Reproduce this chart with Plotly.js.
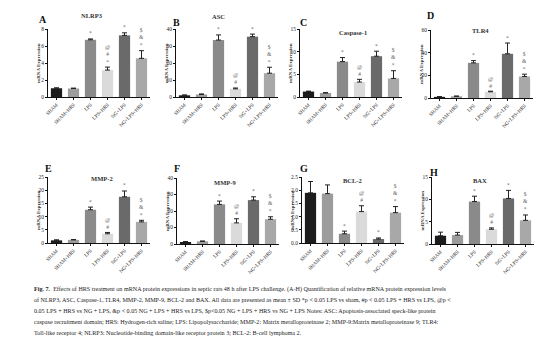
<!DOCTYPE html>
<html><head><meta charset="utf-8">
<script src="https://cdn.plot.ly/plotly-3.0.1.min.js"></script>
<style>html,body{margin:0;padding:0;background:#fff;}#chart{width:554px;height:342px;}</style>
</head><body><div id="chart"></div>
<script>
const categories = ['SHAM','SHAM+HRS','LPS','LPS+HRS','NG+LPS','NG+LPS+HRS'];
const barColors = ['#1c1c1c','#9c9c9c','#8a8a8a','#dadada','#6a6a6a','#a8a8a8'];

const nlrp3Mean = [1.03, 1.0, 6.73, 3.17, 7.25, 4.55];
const nlrp3Err  = [0.05, 0.05, 0.1, 0.35, 0.3, 0.9];
const ascMean   = [1.0, 1.5, 33.5, 4.8, 35.5, 14];
const ascErr    = [0.2, 0.3, 3, 0.5, 1.5, 3.5];
const casp1Mean = [1.2, 0.9, 7.8, 3.3, 9.0, 4.1];
const casp1Err  = [0.1, 0.05, 0.9, 0.6, 1.1, 1.7];
const tlr4Mean  = [1.0, 1.5, 31, 5.5, 39, 19];
const tlr4Err   = [0.2, 0.2, 2, 0.5, 9.5, 2];
const mmp2Mean  = [1.0, 1.2, 12.6, 3.5, 17.5, 8.0];
const mmp2Err   = [0.2, 0.1, 1, 0.5, 2.2, 0.6];
const mmp9Mean  = [1.2, 1.6, 24, 12.8, 26.6, 15];
const mmp9Err   = [0.3, 0.2, 2, 2.5, 2, 1.5];
const bcl2Mean  = [1.9, 1.87, 0.35, 1.19, 0.15, 1.15];
const bcl2Err   = [0.43, 0.33, 0.1, 0.22, 0.04, 0.23];
const baxMean   = [1.85, 2.0, 9.5, 3.3, 10.2, 5.3];
const baxErr    = [0.8, 0.6, 1.2, 0.3, 1.8, 1.2];

const marksA = ['', '', '*', '@<br>#<br>*', '*', '$<br>&amp;<br>*'];
const marksStd = ['', '', '*', '@<br>#', '*', '$<br>&amp;<br>*'];
const marksG = ['', '', '*', '@<br>#', '*', '$<br>&amp;<br>*'];

const panelNames = ['NLRP3','ASC','Caspase-1','TLR4','MMP-2','MMP-9','BCL-2','BAX'];
const panelLetters = ['A','B','C','D','E','F','G','H'];
const yTicks = [[0,2,4,6,8],[0,10,20,30,40],[0,5,10,15],[0,20,40,60],[0,5,10,15,20,25],[0,10,20,30,40],[0,0.5,1.0,1.5,2.0,2.5],[0,5,10,15]];
const yTickText = [null,null,null,null,null,null,['0.0','0.5','1.0','1.5','2.0','2.5'],null];

const means = [nlrp3Mean, ascMean, casp1Mean, tlr4Mean, mmp2Mean, mmp9Mean, bcl2Mean, baxMean];
const errs  = [nlrp3Err, ascErr, casp1Err, tlr4Err, mmp2Err, mmp9Err, bcl2Err, baxErr];
const marks = [marksA, marksStd, marksStd, marksStd, marksStd, marksStd, marksG, marksStd];

const W = 554, H = 342;
const boxes = [
  {x0:48,x1:150,y0:29,y1:97, title:[92,15], letter:[43,19]},
  {x0:176,x1:278,y0:29,y1:97, title:[218,17], letter:[176,22]},
  {x0:300,x1:402,y0:29,y1:97, title:[353,33], letter:[303,22]},
  {x0:431,x1:533,y0:30,y1:98, title:[480,30], letter:[430,15]},
  {x0:48,x1:150,y0:177,y1:243, title:[102,178], letter:[48,168]},
  {x0:177,x1:279,y0:178,y1:244, title:[225,182], letter:[177,168]},
  {x0:302,x1:404,y0:177,y1:243, title:[352,180], letter:[304,168]},
  {x0:432,x1:534,y0:177,y1:244, title:[480,180], letter:[434,172]}
];
const px = v => v / W;
const py = v => 1 - v / H;

const serif = 'Liberation Serif, Times New Roman, serif';
const data = [];
const layout = {
  width: W, height: H, margin:{l:0,r:0,t:0,b:0},
  paper_bgcolor:'#fff', plot_bgcolor:'#fff', showlegend:false,
  font:{family:serif, color:'#222'},
  annotations: []
};

boxes.forEach((b, i) => {
  const n = i === 0 ? '' : String(i + 1);
  const xa = 'x' + n, ya = 'y' + n;
  data.push({
    type:'bar', x: categories, y: means[i], xaxis: xa, yaxis: ya,
    width: 0.66,
    marker:{color: barColors, line:{width:0}},
    error_y:{type:'data', symmetric:false, array: errs[i], arrayminus: errs[i].map(() => 0),
             color:'#222', thickness:1, width:2.5},
    hoverinfo:'none'
  });
  const top = yTicks[i][yTicks[i].length - 1];
  layout['xaxis' + n] = {
    domain:[px(b.x0), px(b.x1)], anchor: ya, range:[-0.5, 5.5],
    showline:true, linecolor:'#111', linewidth:1, ticks:'outside', ticklen:2, tickwidth:1, tickcolor:'#111',
    tickangle:-45, tickfont:{size:5, family:serif, color:'#222'}, showgrid:false, zeroline:false, fixedrange:true
  };
  layout['yaxis' + n] = {
    domain:[py(b.y1), py(b.y0)], anchor: xa, range:[0, top],
    tickvals: yTicks[i], ticktext: yTickText[i] || yTicks[i].map(String),
    showline:true, linecolor:'#111', linewidth:1, ticks:'outside', ticklen:2, tickwidth:1, tickcolor:'#111',
    tickfont:{size:5.5, family:serif, color:'#222'}, showgrid:false, zeroline:false, fixedrange:true
  };
  layout.annotations.push({xref:'paper', yref:'paper', x:px(b.title[0]), y:py(b.title[1]), text:'<b>' + panelNames[i] + '</b>',
    showarrow:false, xanchor:'center', yanchor:'middle', font:{size:6.5, family:serif, color:'#333'}});
  layout.annotations.push({xref:'paper', yref:'paper', x:px(b.letter[0]), y:py(b.letter[1]), text:'<b>' + panelLetters[i] + '</b>',
    showarrow:false, xanchor:'center', yanchor:'middle', font:{size:10, family:serif, color:'#111'}});
  layout.annotations.push({xref:'paper', yref:'paper', x:px(b.x0 - 10), y:py((b.y0 + b.y1) / 2), text:'<b>mRNA Expression</b>',
    textangle:-90, showarrow:false, xanchor:'center', yanchor:'middle', font:{size:5, family:serif, color:'#333'}});
  categories.forEach((c, k) => {
    if (!marks[i][k]) return;
    layout.annotations.push({xref: xa, yref: ya, x: c, y: means[i][k] + errs[i][k], text: marks[i][k],
      showarrow:false, xanchor:'center', yanchor:'bottom', yshift:0.5,
      font:{size:5.6, family:serif, color:'#666'}});
  });
});

const captionLines = [
  '<b>Fig. 7.</b>  Effects of HRS treatment on mRNA protein expressions in septic rats 48 h after LPS challenge. (A-H) Quantification of relative mRNA protein expression levels',
  'of NLRP3, ASC, Caspase-1, TLR4, MMP-2, MMP-9, BCL-2 and BAX. All data are presented as mean ± SD *p &lt; 0.05 LPS vs sham, #p &lt; 0.05 LPS + HRS vs LPS, @p &lt;',
  '0.05 LPS + HRS vs NG + LPS, &amp;p &lt; 0.05 NG + LPS + HRS vs LPS, $p&lt;0.05 NG + LPS + HRS vs NG + LPS Notes: ASC: Apoptosis-associated speck-like protein',
  'caspase recruitment domain; HRS: Hydrogen-rich saline; LPS: Lipopolysaccharide; MMP-2: Matrix metalloproteinase 2; MMP-9:Matrix metalloproteinase 9; TLR4:',
  'Toll-like receptor 4; NLRP3: Nucleotide-binding domain-like receptor protein 3; BCL-2: B-cell lymphoma 2.'
];
const captionY = [289, 300, 311, 322, 333];
captionLines.forEach((t, k) => {
  layout.annotations.push({xref:'paper', yref:'paper', x:px(32), y:py(captionY[k]), text:t, showarrow:false,
    xanchor:'left', yanchor:'middle', align:'left', font:{size:6.1, family:serif, color:'#222'}});
});

Plotly.newPlot('chart', data, layout, {staticPlot:true, displayModeBar:false});
</script></body></html>
